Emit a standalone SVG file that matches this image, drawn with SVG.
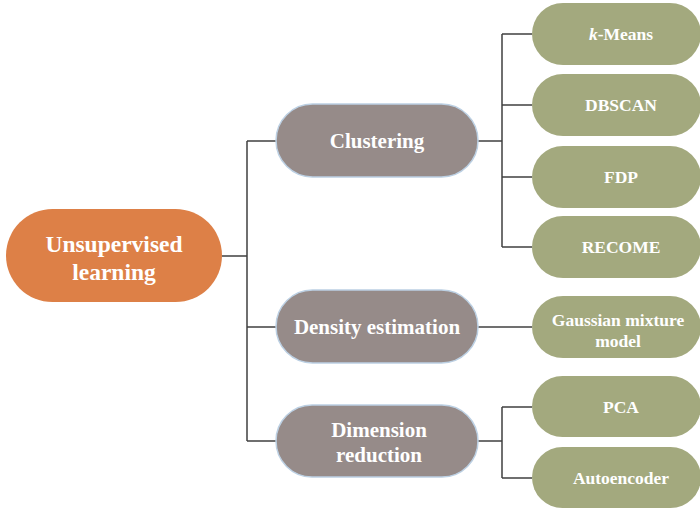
<svg xmlns="http://www.w3.org/2000/svg" width="700" height="510" viewBox="0 0 700 510">
<style>
.root{fill:#DD8047}
.mid{fill:#968B89;stroke:#BCD0E3;stroke-width:1.5}
.leaf{fill:#A3A97E}
text{font-family:"Liberation Serif","Times New Roman",serif;font-weight:bold;fill:#FFFFFF;text-anchor:middle}
.t1{font-size:23.5px}
.t2{font-size:21px}
.t3{font-size:17.5px}
.conn{fill:none;stroke:#404040;stroke-width:1.5}
</style>
<rect width="700" height="510" fill="#FFFFFF"/>
<g id="connectors" class="conn">
<path d="M222,256 H247 M247,141 V441 M247,141 H276 M247,327 H276 M247,441 H276"/>
<path d="M478,141 H502 M502,34 V247 M502,34 H532 M502,105 H532 M502,177 H532 M502,247 H532"/>
<path d="M478,327 H532"/>
<path d="M478,441 H502 M502,407 V478 M502,407 H532 M502,478 H532"/>
</g>
<g id="root">
<rect class="root" x="6" y="209" width="216" height="93" rx="46.5"/>
<text class="t1" x="114" y="252">Unsupervised</text>
<text class="t1" x="114" y="280">learning</text>
</g>
<g id="clustering">
<rect class="mid" x="276" y="104" width="202" height="73" rx="36.5"/>
<text class="t2" x="377" y="148">Clustering</text>
</g>
<g id="density">
<rect class="mid" x="276" y="290" width="202" height="73" rx="36.5"/>
<text class="t2" x="377" y="334">Density estimation</text>
</g>
<g id="dimension">
<rect class="mid" x="276" y="405" width="202" height="72" rx="36"/>
<text class="t2" x="379" y="437">Dimension</text>
<text class="t2" x="379" y="462">reduction</text>
</g>
<g id="kmeans">
<rect class="leaf" x="532" y="3" width="169" height="62" rx="31"/>
<text class="t3" x="621" y="40"><tspan font-style="italic">k</tspan>-Means</text>
</g>
<g id="dbscan">
<rect class="leaf" x="532" y="74" width="169" height="62" rx="31"/>
<text class="t3" x="621" y="111">DBSCAN</text>
</g>
<g id="fdp">
<rect class="leaf" x="532" y="146" width="169" height="62" rx="31"/>
<text class="t3" x="621" y="183">FDP</text>
</g>
<g id="recome">
<rect class="leaf" x="532" y="216" width="169" height="62" rx="31"/>
<text class="t3" x="621" y="253">RECOME</text>
</g>
<g id="gmm">
<rect class="leaf" x="532" y="296" width="169" height="62" rx="31"/>
<text class="t3" x="618" y="326">Gaussian mixture</text>
<text class="t3" x="618" y="347">model</text>
</g>
<g id="pca">
<rect class="leaf" x="532" y="376" width="169" height="61" rx="30.5"/>
<text class="t3" x="621" y="413">PCA</text>
</g>
<g id="autoencoder">
<rect class="leaf" x="532" y="447" width="169" height="61" rx="30.5"/>
<text class="t3" x="621" y="484">Autoencoder</text>
</g>
</svg>
